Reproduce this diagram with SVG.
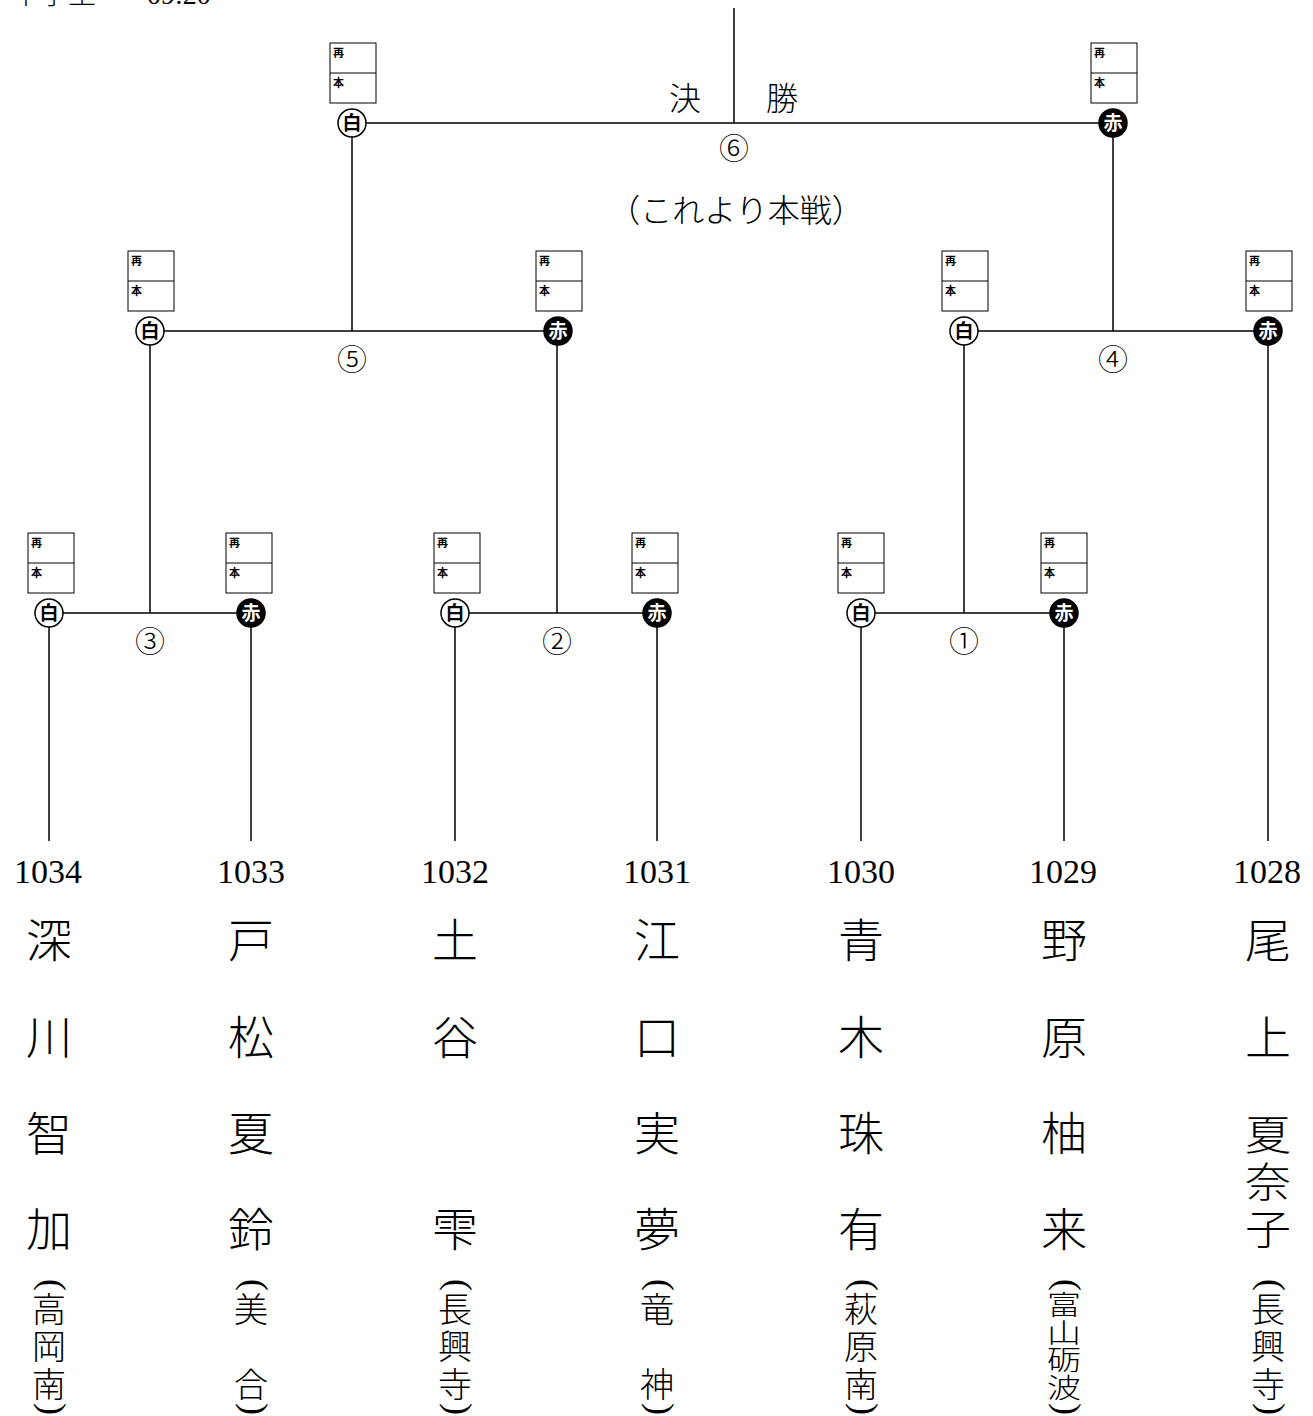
<svg xmlns="http://www.w3.org/2000/svg" xmlns:xlink="http://www.w3.org/1999/xlink" width="1313" height="1416" viewBox="0 0 1313 1416">
<style>
.ln{stroke:#000;stroke-width:1.5;fill:none}
.bx{fill:#fff;stroke:#000;stroke-width:1}
.lb{font-family:"Noto Sans CJK JP",sans-serif;font-weight:bold;font-size:11px;fill:#000}
.cw{fill:#fff;stroke:#000;stroke-width:1.5}
.cr{fill:#000;stroke:#000;stroke-width:1.5}
.ct{font-family:"Noto Sans CJK JP",sans-serif;font-weight:bold;font-size:19px;text-anchor:middle}
.tw{fill:#000}
.tr{fill:#fff}
.cn{font-family:"Noto Sans CJK JP",sans-serif;font-weight:300;font-size:30px;text-anchor:middle;fill:#000}
.jp{font-family:"Liberation Serif","Noto Sans CJK JP",serif;font-weight:300;font-size:32px;fill:#000}
.num{font-family:"Liberation Serif",serif;font-size:34px;text-anchor:middle;fill:#000}
.nm{font-family:"Liberation Serif","Noto Sans CJK JP",serif;font-weight:300;font-size:46px;text-anchor:middle;fill:#000}
.sc{font-family:"Liberation Serif","Noto Sans CJK JP",serif;font-weight:300;font-size:34px;text-anchor:middle;fill:#000}
.pr{font-family:"Liberation Serif",serif;font-size:36px;text-anchor:middle;fill:#000}
</style>
<defs>
<g id="sb">
<rect class="bx" x="0" y="0" width="46" height="60"/>
<line class="ln" x1="0" y1="30" x2="46" y2="30" style="stroke-width:1"/>
<text class="lb" x="3" y="14">再</text>
<text class="lb" x="3" y="44">本</text>
</g>
</defs>
<rect x="0" y="0" width="1313" height="1416" fill="#fff"/>

<text class="jp" y="4" style="font-size:28px"><tspan x="12">中学生</tspan><tspan x="147">09:20</tspan></text>

<g id="connectors">
<line class="ln" x1="734" y1="8" x2="734" y2="123"/>
<line class="ln" x1="352" y1="123" x2="1113" y2="123"/>
<line class="ln" x1="352" y1="123" x2="352" y2="331"/>
<line class="ln" x1="1113" y1="123" x2="1113" y2="331"/>
<line class="ln" x1="150" y1="331" x2="558" y2="331"/>
<line class="ln" x1="964" y1="331" x2="1268" y2="331"/>
<line class="ln" x1="150" y1="331" x2="150" y2="613"/>
<line class="ln" x1="557" y1="331" x2="557" y2="613"/>
<line class="ln" x1="964" y1="331" x2="964" y2="613"/>
<line class="ln" x1="1268" y1="331" x2="1268" y2="841"/>
<line class="ln" x1="49" y1="613" x2="251" y2="613"/>
<line class="ln" x1="455" y1="613" x2="657" y2="613"/>
<line class="ln" x1="861" y1="613" x2="1064" y2="613"/>
<line class="ln" x1="49" y1="613" x2="49" y2="841"/>
<line class="ln" x1="251" y1="613" x2="251" y2="841"/>
<line class="ln" x1="455" y1="613" x2="455" y2="841"/>
<line class="ln" x1="657" y1="613" x2="657" y2="841"/>
<line class="ln" x1="861" y1="613" x2="861" y2="841"/>
<line class="ln" x1="1064" y1="613" x2="1064" y2="841"/>
</g>

<g id="labels">
<text class="jp" x="685" y="110" text-anchor="middle">決</text>
<text class="jp" x="782" y="110" text-anchor="middle">勝</text>
<text class="jp" x="736" y="222" text-anchor="middle">（これより本戦）</text>
<text class="cn" x="734" y="159">⑥</text>
<text class="cn" x="352" y="370">⑤</text>
<text class="cn" x="1113" y="370">④</text>
<text class="cn" x="150" y="652">③</text>
<text class="cn" x="557" y="652">②</text>
<text class="cn" x="964" y="652">①</text>
</g>

<g id="m6-white"><use xlink:href="#sb" x="330" y="43"/><circle class="cw" cx="352" cy="123" r="14"/><text class="ct tw" x="352" y="130">白</text></g>
<g id="m6-red"><use xlink:href="#sb" x="1091" y="43"/><circle class="cr" cx="1113" cy="123" r="14"/><text class="ct tr" x="1113" y="130">赤</text></g>

<g id="m5-white"><use xlink:href="#sb" x="128" y="251"/><circle class="cw" cx="150" cy="331" r="14"/><text class="ct tw" x="150" y="338">白</text></g>
<g id="m5-red"><use xlink:href="#sb" x="536" y="251"/><circle class="cr" cx="558" cy="331" r="14"/><text class="ct tr" x="558" y="338">赤</text></g>
<g id="m4-white"><use xlink:href="#sb" x="942" y="251"/><circle class="cw" cx="964" cy="331" r="14"/><text class="ct tw" x="964" y="338">白</text></g>
<g id="m4-red"><use xlink:href="#sb" x="1246" y="251"/><circle class="cr" cx="1268" cy="331" r="14"/><text class="ct tr" x="1268" y="338">赤</text></g>

<g id="m3-white"><use xlink:href="#sb" x="28" y="533"/><circle class="cw" cx="49" cy="613" r="14"/><text class="ct tw" x="49" y="620">白</text></g>
<g id="m3-red"><use xlink:href="#sb" x="226" y="533"/><circle class="cr" cx="251" cy="613" r="14"/><text class="ct tr" x="251" y="620">赤</text></g>
<g id="m2-white"><use xlink:href="#sb" x="434" y="533"/><circle class="cw" cx="455" cy="613" r="14"/><text class="ct tw" x="455" y="620">白</text></g>
<g id="m2-red"><use xlink:href="#sb" x="632" y="533"/><circle class="cr" cx="657" cy="613" r="14"/><text class="ct tr" x="657" y="620">赤</text></g>
<g id="m1-white"><use xlink:href="#sb" x="838" y="533"/><circle class="cw" cx="861" cy="613" r="14"/><text class="ct tw" x="861" y="620">白</text></g>
<g id="m1-red"><use xlink:href="#sb" x="1041" y="533"/><circle class="cr" cx="1064" cy="613" r="14"/><text class="ct tr" x="1064" y="620">赤</text></g>

<g id="p1034">
<text class="num" x="48" y="883">1034</text>
<text class="nm"><tspan x="49" y="957">深</tspan><tspan x="49" y="1054">川</tspan><tspan x="49" y="1150">智</tspan><tspan x="49" y="1246">加</tspan></text>
<text class="pr" transform="translate(49,1285) rotate(90)" y="8">(</text>
<text class="sc"><tspan x="49" y="1322">高</tspan><tspan x="49" y="1359">岡</tspan><tspan x="49" y="1397">南</tspan></text>
<text class="pr" transform="translate(49,1409) rotate(90)" y="8">)</text>
</g>

<g id="p1033">
<text class="num" x="251" y="883">1033</text>
<text class="nm"><tspan x="251" y="957">戸</tspan><tspan x="251" y="1054">松</tspan><tspan x="251" y="1150">夏</tspan><tspan x="251" y="1246">鈴</tspan></text>
<text class="pr" transform="translate(251,1285) rotate(90)" y="8">(</text>
<text class="sc"><tspan x="251" y="1322">美</tspan><tspan x="251" y="1397">合</tspan></text>
<text class="pr" transform="translate(251,1409) rotate(90)" y="8">)</text>
</g>

<g id="p1032">
<text class="num" x="455" y="883">1032</text>
<text class="nm"><tspan x="455" y="957">土</tspan><tspan x="455" y="1054">谷</tspan><tspan x="455" y="1246">雫</tspan></text>
<text class="pr" transform="translate(455,1285) rotate(90)" y="8">(</text>
<text class="sc"><tspan x="455" y="1322">長</tspan><tspan x="455" y="1359">興</tspan><tspan x="455" y="1397">寺</tspan></text>
<text class="pr" transform="translate(455,1409) rotate(90)" y="8">)</text>
</g>

<g id="p1031">
<text class="num" x="657" y="883">1031</text>
<text class="nm"><tspan x="657" y="957">江</tspan><tspan x="657" y="1054">口</tspan><tspan x="657" y="1150">実</tspan><tspan x="657" y="1246">夢</tspan></text>
<text class="pr" transform="translate(657,1285) rotate(90)" y="8">(</text>
<text class="sc"><tspan x="657" y="1322">竜</tspan><tspan x="657" y="1397">神</tspan></text>
<text class="pr" transform="translate(657,1409) rotate(90)" y="8">)</text>
</g>

<g id="p1030">
<text class="num" x="861" y="883">1030</text>
<text class="nm"><tspan x="861" y="957">青</tspan><tspan x="861" y="1054">木</tspan><tspan x="861" y="1150">珠</tspan><tspan x="861" y="1246">有</tspan></text>
<text class="pr" transform="translate(861,1285) rotate(90)" y="8">(</text>
<text class="sc"><tspan x="861" y="1322">萩</tspan><tspan x="861" y="1359">原</tspan><tspan x="861" y="1397">南</tspan></text>
<text class="pr" transform="translate(861,1409) rotate(90)" y="8">)</text>
</g>

<g id="p1029">
<text class="num" x="1063" y="883">1029</text>
<text class="nm"><tspan x="1064" y="957">野</tspan><tspan x="1064" y="1054">原</tspan><tspan x="1064" y="1150">柚</tspan><tspan x="1064" y="1246">来</tspan></text>
<text class="pr" transform="translate(1064,1285) rotate(90)" y="8">(</text>
<text class="sc" transform="translate(1064,0) scale(1,0.8)"><tspan x="0" y="1644">富</tspan><tspan x="0" y="1679">山</tspan><tspan x="0" y="1713">砺</tspan><tspan x="0" y="1748">波</tspan></text>
<text class="pr" transform="translate(1064,1409) rotate(90)" y="8">)</text>
</g>

<g id="p1028">
<text class="num" x="1267" y="883">1028</text>
<text class="nm"><tspan x="1268" y="957">尾</tspan><tspan x="1268" y="1054">上</tspan></text>
<text class="nm" transform="translate(1268,0) scale(1,0.88)"><tspan x="0" y="1307">夏</tspan><tspan x="0" y="1360">奈</tspan><tspan x="0" y="1414">子</tspan></text>
<text class="pr" transform="translate(1268,1285) rotate(90)" y="8">(</text>
<text class="sc"><tspan x="1268" y="1322">長</tspan><tspan x="1268" y="1359">興</tspan><tspan x="1268" y="1397">寺</tspan></text>
<text class="pr" transform="translate(1268,1409) rotate(90)" y="8">)</text>
</g>
</svg>
